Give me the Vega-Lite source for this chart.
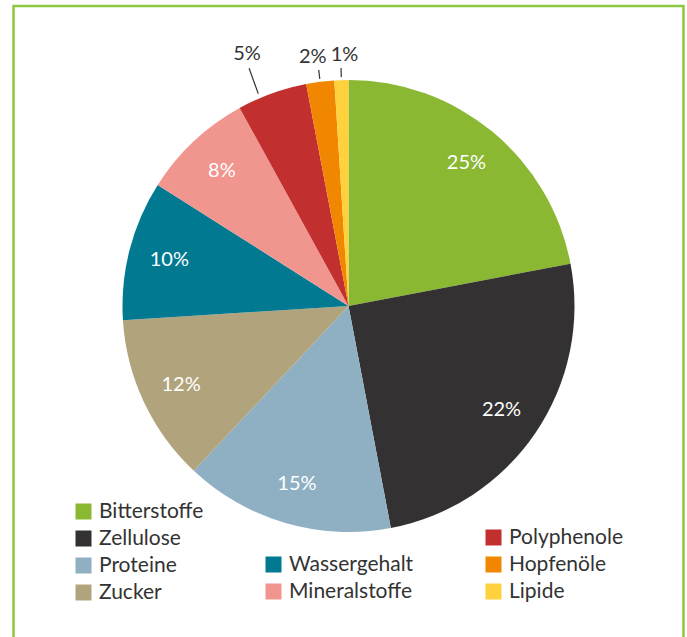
{
  "$schema": "https://vega.github.io/schema/vega-lite/v6.json",
  "width": 670,
  "height": 660,
  "autosize": {"type": "none"},
  "padding": {"left": 13.5, "top": 6, "right": 3.5, "bottom": 0},
  "background": "white",
  "view": {"stroke": "#8dc63f", "strokeWidth": 2.5, "fill": "white"},
  "config": {
    "view": {"stroke": "#8dc63f", "strokeWidth": 2.5},
    "font": "Lato",
    "text": {"font": "Lato"}
  },
  "data": {
    "values": [
      {"category": "Bitterstoffe", "value": 22, "label": "25%", "rank": 1},
      {"category": "Zellulose", "value": 25, "label": "22%", "rank": 2},
      {"category": "Proteine", "value": 15, "label": "15%", "rank": 3},
      {"category": "Zucker", "value": 12, "label": "12%", "rank": 4},
      {"category": "Wassergehalt", "value": 10, "label": "10%", "rank": 5},
      {"category": "Mineralstoffe", "value": 8, "label": "8%", "rank": 6},
      {"category": "Polyphenole", "value": 5, "label": "5%", "rank": 7},
      {"category": "Hopfenöle", "value": 2, "label": "2%", "rank": 8},
      {"category": "Lipide", "value": 1, "label": "1%", "rank": 9}
    ]
  },
  "layer": [
    {
      "mark": {"type": "arc", "outerRadius": 226, "yOffset": -30},
      "encoding": {
        "theta": {"field": "value", "type": "quantitative", "stack": true},
        "order": {"field": "rank", "type": "quantitative"},
        "color": {
          "field": "category",
          "type": "nominal",
          "scale": {
            "domain": ["Bitterstoffe", "Zellulose", "Proteine", "Zucker", "Wassergehalt", "Mineralstoffe", "Polyphenole", "Hopfenöle", "Lipide"],
            "range": ["#8ab833", "#333132", "#8fafc3", "#b1a47c", "#007991", "#f1958f", "#c12f2e", "#f18700", "#ffd13c"]
          },
          "legend": null
        }
      }
    },
    {
      "mark": {"type": "text", "radius": 185, "yOffset": -30, "fontSize": 20, "fontWeight": 400, "color": "white", "align": "center", "baseline": "middle"},
      "encoding": {
        "theta": {"field": "value", "type": "quantitative", "stack": true},
        "order": {"field": "rank", "type": "quantitative"},
        "text": {"condition": {"test": "datum.value >= 8", "field": "label"}, "value": ""}
      }
    },
    {
      "mark": {"type": "text", "radius": 270, "yOffset": -28, "dx": -10, "fontSize": 20, "fontWeight": 400, "color": "#333333", "align": "center", "baseline": "middle"},
      "encoding": {
        "theta": {"field": "value", "type": "quantitative", "stack": true},
        "order": {"field": "rank", "type": "quantitative"},
        "text": {"condition": {"test": "datum.category === 'Polyphenole'", "field": "label"}, "value": ""}
      }
    },
    {
      "mark": {"type": "text", "radius": 253, "yOffset": -28, "dx": -4, "fontSize": 20, "fontWeight": 400, "color": "#333333", "align": "center", "baseline": "middle"},
      "encoding": {
        "theta": {"field": "value", "type": "quantitative", "stack": true},
        "order": {"field": "rank", "type": "quantitative"},
        "text": {"condition": {"test": "datum.category === 'Hopfenöle'", "field": "label"}, "value": ""}
      }
    },
    {
      "mark": {"type": "text", "radius": 253, "yOffset": -28, "dx": 4, "fontSize": 20, "fontWeight": 400, "color": "#333333", "align": "center", "baseline": "middle"},
      "encoding": {
        "theta": {"field": "value", "type": "quantitative", "stack": true},
        "order": {"field": "rank", "type": "quantitative"},
        "text": {"condition": {"test": "datum.category === 'Lipide'", "field": "label"}, "value": ""}
      }
    },
    {
      "mark": {"type": "arc", "radius": 258, "radius2": 231, "padAngle": 1, "fillOpacity": 0, "stroke": "#333333", "strokeWidth": 1.2, "xOffset": -12, "yOffset": -25},
      "encoding": {
        "theta": {"field": "value", "type": "quantitative", "stack": true},
        "order": {"field": "rank", "type": "quantitative"},
        "strokeOpacity": {"condition": {"test": "datum.category === 'Polyphenole'", "value": 1}, "value": 0}
      }
    },
    {
      "mark": {"type": "arc", "radius": 238, "radius2": 229, "padAngle": 1, "fillOpacity": 0, "stroke": "#333333", "strokeWidth": 1.2, "yOffset": -30},
      "encoding": {
        "theta": {"field": "value", "type": "quantitative", "stack": true},
        "order": {"field": "rank", "type": "quantitative"},
        "strokeOpacity": {"condition": {"test": "datum.category === 'Hopfenöle' || datum.category === 'Lipide'", "value": 1}, "value": 0}
      }
    },
    {
      "transform": [{"filter": {"field": "category", "oneOf": ["Bitterstoffe", "Zellulose", "Proteine", "Zucker"]}}],
      "mark": {"type": "square", "opacity": 0},
      "encoding": {
        "color": {
          "field": "category",
          "type": "nominal",
          "scale": {"domain": ["Bitterstoffe", "Zellulose", "Proteine", "Zucker"], "range": ["#8ab833", "#333132", "#8fafc3", "#b1a47c"]},
          "legend": {"title": null, "orient": "none", "legendX": 59.5, "legendY": 495, "padding": 0, "symbolType": "square", "symbolSize": 256, "symbolOpacity": 1, "symbolStrokeWidth": 0, "labelFont": "Lato", "labelFontSize": 21, "labelColor": "#333333", "labelOffset": 5, "rowPadding": 5}
        }
      }
    },
    {
      "transform": [{"filter": {"field": "category", "oneOf": ["Wassergehalt", "Mineralstoffe"]}}],
      "mark": {"type": "square", "opacity": 0},
      "encoding": {
        "color": {
          "field": "category",
          "type": "nominal",
          "scale": {"domain": ["Wassergehalt", "Mineralstoffe"], "range": ["#007991", "#f1958f"]},
          "legend": {"title": null, "orient": "none", "legendX": 249.5, "legendY": 548, "padding": 0, "symbolType": "square", "symbolSize": 256, "symbolOpacity": 1, "symbolStrokeWidth": 0, "labelFont": "Lato", "labelFontSize": 21, "labelColor": "#333333", "labelOffset": 5, "rowPadding": 5}
        }
      }
    },
    {
      "transform": [{"filter": {"field": "category", "oneOf": ["Polyphenole", "Hopfenöle", "Lipide"]}}],
      "mark": {"type": "square", "opacity": 0},
      "encoding": {
        "color": {
          "field": "category",
          "type": "nominal",
          "scale": {"domain": ["Polyphenole", "Hopfenöle", "Lipide"], "range": ["#c12f2e", "#f18700", "#ffd13c"]},
          "legend": {"title": null, "orient": "none", "legendX": 469.5, "legendY": 521, "padding": 0, "symbolType": "square", "symbolSize": 256, "symbolOpacity": 1, "symbolStrokeWidth": 0, "labelFont": "Lato", "labelFontSize": 21, "labelColor": "#333333", "labelOffset": 5, "rowPadding": 5}
        }
      }
    }
  ],
  "resolve": {"scale": {"color": "independent"}}
}
